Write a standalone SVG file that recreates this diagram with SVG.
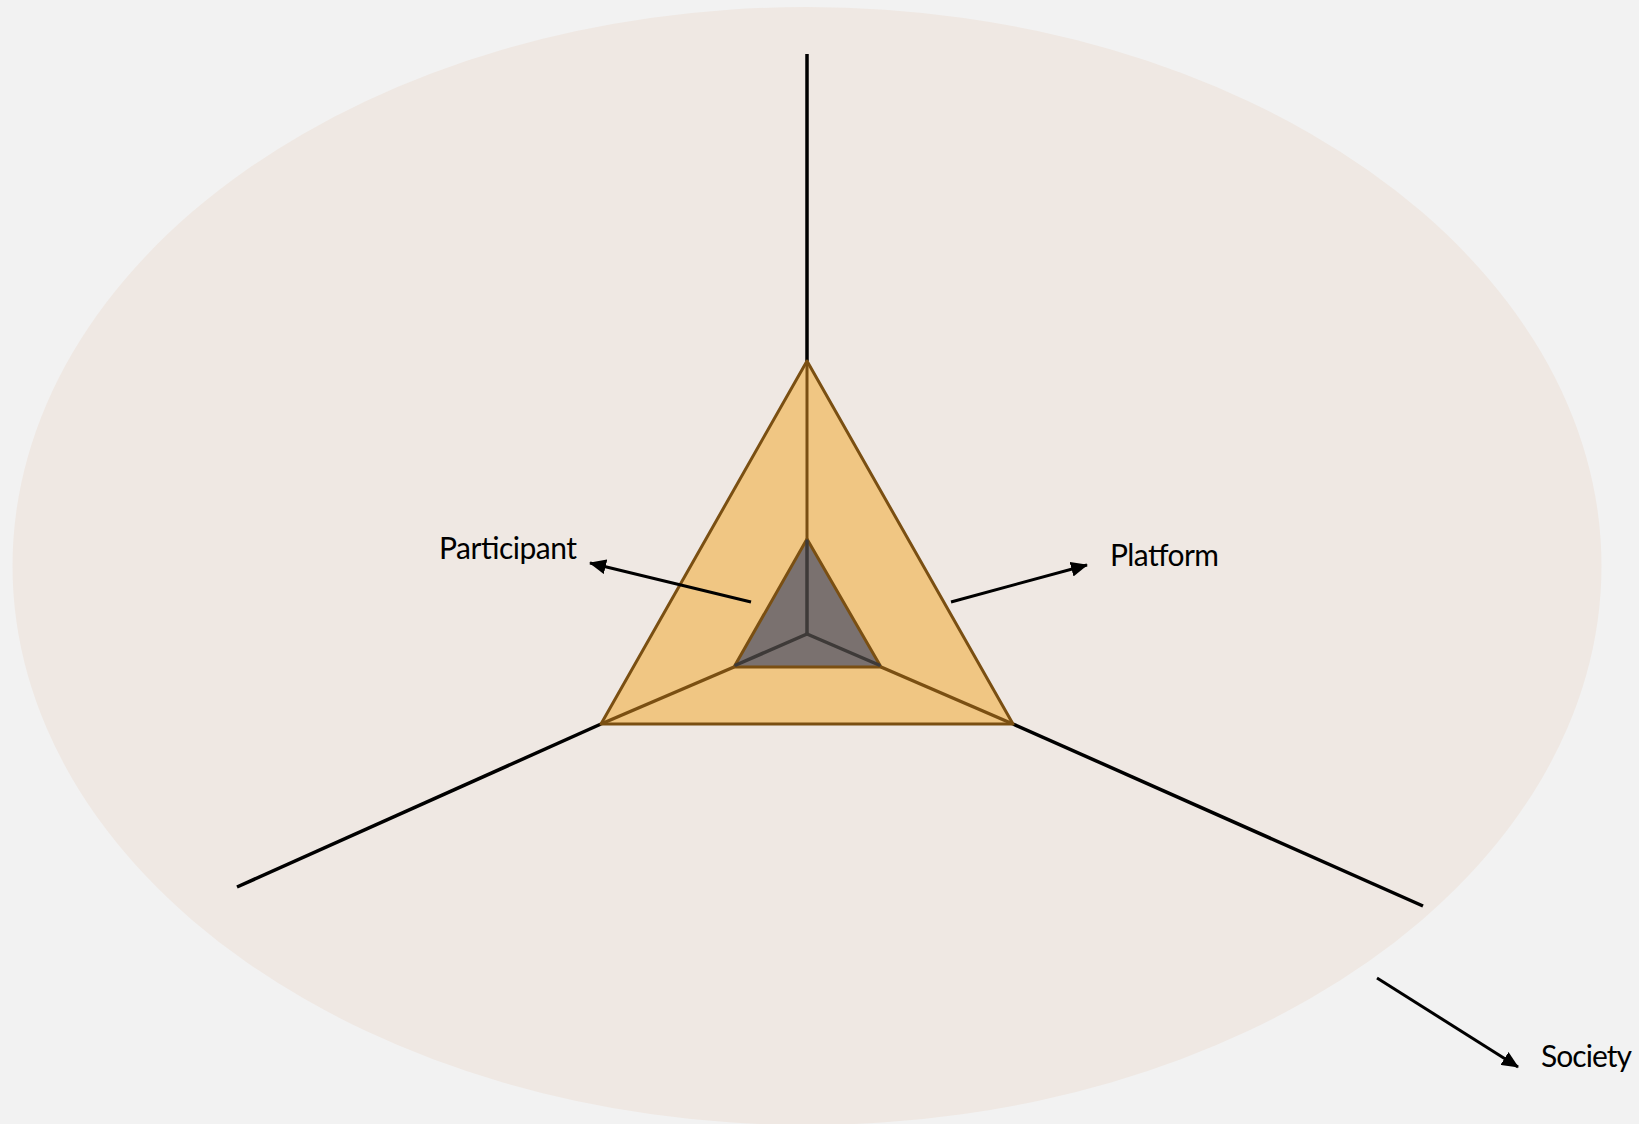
<svg xmlns="http://www.w3.org/2000/svg" width="1639" height="1124" viewBox="0 0 1639 1124">
  <style>
    .axis { stroke: #000; stroke-width: 3.5; fill: none; }
    .brown { stroke: #7a4f12; stroke-width: 3; stroke-linejoin: round; }
    .brown-thick { stroke: #7a4f12; stroke-width: 3.5; }
    .outer { fill: #f0c683; }
    .inner { fill: #7a716f; }
    .dark { stroke: #3e3a38; stroke-width: 3.5; fill: none; stroke-linecap: round; }
    .arrow { stroke: #000; stroke-width: 3; fill: none; }
    .label { font-family: Lato, "Liberation Sans", Arial, sans-serif; font-size: 30px; fill: #000; }
  </style>
  <defs>
    <marker id="ah" markerWidth="17" markerHeight="15" refX="16" refY="7.5" orient="auto" markerUnits="userSpaceOnUse">
      <path d="M0,0 L17,7.5 L0,15 Z" fill="#000"/>
    </marker>
  </defs>
  <rect width="1639" height="1124" fill="#f2f2f2"/>
  <g id="society-ellipse">
    <ellipse cx="807" cy="566" rx="794.5" ry="559" fill="#efe8e3"/>
  </g>
  <g id="axes">
    <line class="axis" x1="807" y1="54" x2="807" y2="361"/>
    <line class="axis" x1="601" y1="724" x2="237" y2="887"/>
    <line class="axis" x1="1013" y1="724" x2="1423" y2="906"/>
  </g>
  <g id="platform-triangle">
    <polygon class="outer brown" points="807,361 1013,724 601,724"/>
    <line class="brown" x1="807" y1="361" x2="807" y2="539"/>
    <line class="brown-thick" x1="601" y1="724" x2="734" y2="667"/>
    <line class="brown-thick" x1="1013" y1="724" x2="881" y2="667"/>
  </g>
  <g id="participant-triangle">
    <polygon class="inner brown" points="807,539 881,667 734,667"/>
    <line class="dark" x1="807" y1="541" x2="807" y2="634"/>
    <line class="dark" x1="807" y1="634" x2="736" y2="665"/>
    <line class="dark" x1="807" y1="634" x2="879" y2="665"/>
  </g>
  <g id="connectors">
    <line class="arrow" x1="751" y1="602" x2="590" y2="563" marker-end="url(#ah)"/>
    <line class="arrow" x1="951" y1="602" x2="1087" y2="565" marker-end="url(#ah)"/>
    <line class="arrow" x1="1377" y1="978" x2="1518" y2="1067" marker-end="url(#ah)"/>
  </g>
  <g id="participant-label">
    <text class="label" x="439" y="559" textLength="138">Participant</text>
  </g>
  <g id="platform-label">
    <text class="label" x="1110" y="566" textLength="109">Platform</text>
  </g>
  <g id="society-label">
    <text class="label" x="1541" y="1067" textLength="91">Society</text>
  </g>
</svg>
